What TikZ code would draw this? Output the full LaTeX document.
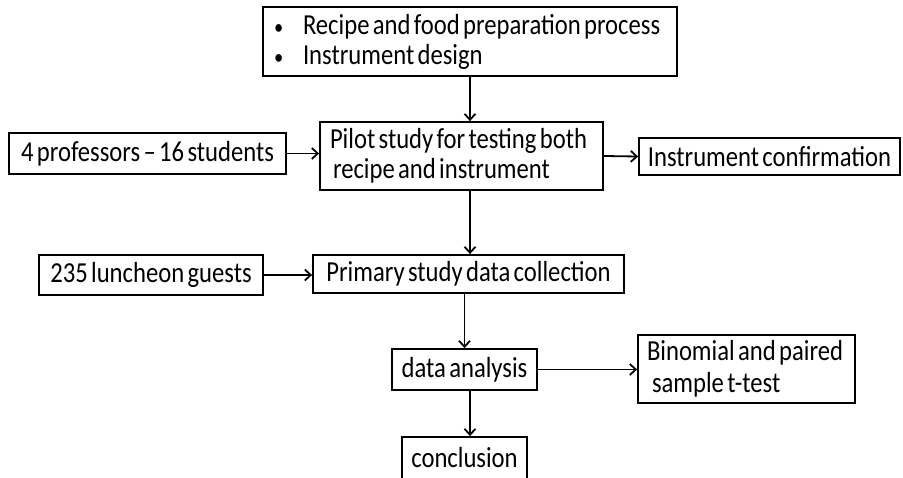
\documentclass[tikz,border=0pt]{standalone}
\usepackage{fontspec}
\setmainfont{Carlito}[FakeStretch=0.85, WordSpace=0.6]
\usetikzlibrary{arrows.meta}

\tikzset{
  box/.style={draw, line width=1.8pt, inner sep=0pt, font=\fontsize{29}{30}\selectfont},
  arr/.style={-{Straight Barb[length=6pt,width=11pt]}, line width=1.8pt},
}
\newcommand{\listdot}{\makebox[29pt][l]{\scalebox{0.75}{\textbullet}}}

\begin{document}
\begin{tikzpicture}[x=1pt,y=-1pt]
  \useasboundingbox (0,0) rectangle (903,477);
  % boxes
  \node[box, minimum width=414pt, minimum height=69pt] (design) at (470,41.5)
    {\parbox{392pt}{\raggedright\listdot Recipe and food preparation process\\\listdot Instrument design}};
  \node[box, minimum width=283pt, minimum height=68pt] (pilot) at (461.5,156)
    {\parbox{263pt}{\raggedright Pilot study for testing both\\\hspace*{3pt}recipe and instrument}};
  \node[box, minimum width=277pt, minimum height=41pt] (profs) at (147.5,153.5) {4 professors -- 16 students};
  \node[box, minimum width=261pt, minimum height=37pt] (confirm) at (769.5,156.5) {Instrument confirmation};
  \node[box, minimum width=224pt, minimum height=40pt] (guests) at (151,275) {235 luncheon guests};
  \node[box, minimum width=311pt, minimum height=38pt] (primary) at (468.5,274) {Primary study data collection};
  \node[box, minimum width=145pt, minimum height=41pt] (analysis) at (464.5,369.5) {data analysis};
  \node[box, minimum width=217pt, minimum height=68pt] (tests) at (746.5,369)
    {\parbox{199pt}{\raggedright Binomial and paired\\[2pt]\hspace*{5pt}sample t-test}};
  \node[box, minimum width=125pt, minimum height=42pt] (concl) at (464.5,458) {conclusion};
  % arrows
  \draw[arr] (design.south) -- (design.south |- pilot.north);
  \draw[arr] (profs.east) -- (profs.east -| pilot.west);
  \draw[arr] (pilot.east) -- (confirm.west);
  \draw[arr] (pilot.south -| design.south) -- (design.south |- primary.north);
  \draw[arr] (guests.east) -- (guests.east -| primary.west);
  \draw[arr] (primary.south -| analysis.north) -- (analysis.north);
  \draw[arr] (analysis.east) -- (analysis.east -| tests.west);
  \draw[arr] (analysis.south -| design.south) -- (design.south |- concl.north);
\end{tikzpicture}
\end{document}
